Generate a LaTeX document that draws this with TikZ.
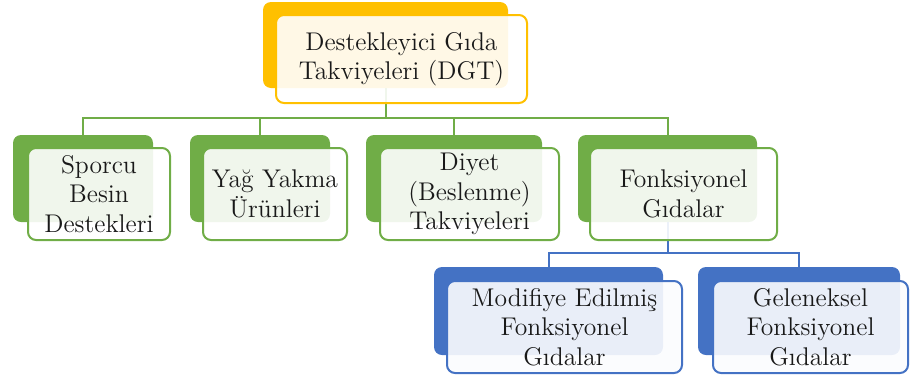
\documentclass[tikz,border=0pt]{standalone}
\usetikzlibrary{positioning}
\definecolor{ylw}{HTML}{FFC000}
\definecolor{grn}{HTML}{70AD47}
\definecolor{blu}{HTML}{4472C4}
\tikzset{
  backbox/.style={rounded corners=4pt, inner sep=0pt, draw=none},
  frontbox/.style={rounded corners=4pt, inner sep=0pt, line width=1pt, fill=white, fill opacity=0.9, text opacity=1, align=center, font=\fontsize{12.8}{14.8}\selectfont, text=black!90},
  conn/.style={line width=1pt},
}
\begin{document}
\begin{tikzpicture}[x=0.5pt,y=-0.5pt]
\useasboundingbox (0,0) rectangle (912,376);
% back boxes
\node[backbox, fill=ylw, minimum width=122.5pt, minimum height=43pt] (b0) at (385.5,45) {};
\node[backbox, fill=grn, minimum width=70pt, minimum height=43.5pt] (b1) at (83,178.5) {};
\node[backbox, fill=grn, minimum width=70pt, minimum height=43.5pt] (b2) at (260,178.5) {};
\node[backbox, fill=grn, minimum width=88pt, minimum height=43.5pt] (b3) at (454,178.5) {};
\node[backbox, fill=grn, minimum width=89.5pt, minimum height=43.5pt] (b4) at (667.5,178.5) {};
\node[backbox, fill=blu, minimum width=114.5pt, minimum height=44pt] (b5) at (548.5,311) {};
\node[backbox, fill=blu, minimum width=101pt, minimum height=44pt] (b6) at (799,311) {};
% connectors
\draw[conn, grn] (b0.south) -- ++(0,30) -| (b1.north);
\draw[conn, grn] (b0.south) -- ++(0,30) -| (b2.north);
\draw[conn, grn] (b0.south) -- ++(0,30) -| (b3.north);
\draw[conn, grn] (b0.south) -- ++(0,30) -| (b4.north);
\draw[conn, blu] (b4.south) -- ++(0,31) -| (b5.north);
\draw[conn, blu] (b4.south) -- ++(0,31) -| (b6.north);
% front boxes
\node[frontbox, draw=ylw, minimum width=125.5pt, minimum height=44pt] (f0) at (401.5,59) {Destekleyici Gıda\\Takviyeleri (DGT)};
\node[frontbox, draw=grn, minimum width=71pt, minimum height=46pt] (f1) at (99,194) {Sporcu\\Besin\\Destekleri};
\node[frontbox, draw=grn, minimum width=72pt, minimum height=46pt] (f2) at (275,194) {Yağ Yakma\\Ürünleri};
\node[frontbox, draw=grn, minimum width=89.5pt, minimum height=46pt] (f3) at (469.5,194) {Diyet\\(Beslenme)\\Takviyeleri};
\node[frontbox, draw=grn, minimum width=93.5pt, minimum height=46pt] (f4) at (683.5,194) {Fonksiyonel\\Gıdalar};
\node[frontbox, draw=blu, fill=blu!2, minimum width=117.5pt, minimum height=46pt] (f5) at (564.5,327) {Modifiye Edilmiş\\Fonksiyonel\\Gıdalar};
\node[frontbox, draw=blu, fill=blu!2, minimum width=97.5pt, minimum height=46pt] (f6) at (810.5,327) {Geleneksel\\Fonksiyonel\\Gıdalar};
\end{tikzpicture}
\end{document}
